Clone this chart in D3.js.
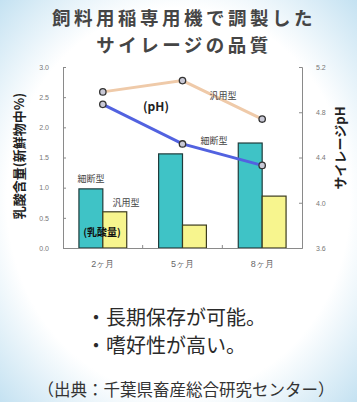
<!DOCTYPE html>
<html>
<head>
<meta charset="utf-8">
<script src="https://cdn.jsdelivr.net/npm/d3@7"></script>
<style>
  body { margin: 0; background: #fff; }
  svg { display: block; font-family: "Noto Sans CJK JP", "Noto Sans", sans-serif; }
</style>
</head>
<body>
<div id="chart"></div>
<script>
var WIDTH = 357, HEIGHT = 402;

// data
var months = ["2ヶ月", "5ヶ月", "8ヶ月"];
var lacticCut = [0.98, 1.56, 1.74];     // 細断型 乳酸量
var lacticGen = [0.60, 0.38, 0.86];     // 汎用型 乳酸量
var phCut = [4.87, 4.52, 4.33];          // 細断型 pH
var phGen = [4.98, 5.08, 4.74];          // 汎用型 pH
var leftTicks = [0, 0.5, 1.0, 1.5, 2.0, 2.5, 3.0];
var rightTicks = [3.6, 4.0, 4.4, 4.8, 5.2];

var margin = {top: 67, left: 63, right: 55, bottom: 154};
var plotW = WIDTH - margin.left - margin.right;
var plotH = HEIGHT - margin.top - margin.bottom;

var svg = d3.select("#chart").append("svg")
  .attr("width", WIDTH)
  .attr("height", HEIGHT);

// soft bluish vignette round the edges
var defs = svg.append("defs");
var grad = defs.append("radialGradient").attr("id", "bg")
  .attr("cx", "50%").attr("cy", "50%").attr("r", "75%");
grad.append("stop").attr("offset", "64%").attr("stop-color", "#ffffff");
grad.append("stop").attr("offset", "100%").attr("stop-color", "#b9dcef");
svg.append("rect").attr("width", WIDTH).attr("height", HEIGHT).attr("fill", "url(#bg)");

// title, two separate lines
function titleLine(y, txt) {
  svg.append("text")
    .attr("x", 184).attr("y", y).attr("text-anchor", "middle")
    .style("font-size", "18.5px").style("font-weight", "bold")
    .style("letter-spacing", "3.5px")
    .attr("fill", "#454545").text(txt);
}
titleLine(25, "飼料用稲専用機で調製した");
titleLine(52, "サイレージの品質");

var g = svg.append("g")
  .attr("transform", "translate(" + margin.left + "," + margin.top + ")");

var xScale = d3.scaleBand().domain(months).range([0, plotW]).paddingInner(0.4).paddingOuter(0.2);
var yLeft = d3.scaleLinear().domain([0, 3.0]).range([plotH, 0]);
var yRight = d3.scaleLinear().domain([3.6, 5.2]).range([plotH, 0]);
var inner = d3.scaleBand().domain(["cut", "gen"]).range([0, xScale.bandwidth()]);

// bars
var bars = g.selectAll(".grp").data(months).enter().append("g")
  .attr("transform", function(d) { return "translate(" + xScale(d) + ",0)"; });

bars.append("rect")
  .attr("x", inner("cut"))
  .attr("y", function(d, i) { return yLeft(lacticCut[i]); })
  .attr("width", inner.bandwidth())
  .attr("height", function(d, i) { return plotH - yLeft(lacticCut[i]); })
  .attr("fill", "#3fc3c6").attr("stroke", "#1f3b3b").attr("stroke-width", 1.2);

bars.append("rect")
  .attr("x", inner("gen"))
  .attr("y", function(d, i) { return yLeft(lacticGen[i]); })
  .attr("width", inner.bandwidth())
  .attr("height", function(d, i) { return plotH - yLeft(lacticGen[i]); })
  .attr("fill", "#f7f58e").attr("stroke", "#3b3b1f").attr("stroke-width", 1.2);

// axes
var axisColor = "#8a8a8a";
var xAxis = g.append("g")
  .attr("transform", "translate(0," + plotH + ")")
  .call(d3.axisBottom(xScale).tickSize(0).tickPadding(13));
xAxis.selectAll("text").style("font-size", "9px").attr("fill", "#666");

var lAxis = g.append("g")
  .call(d3.axisLeft(yLeft).tickValues(leftTicks).tickSize(-3).tickPadding(14).tickFormat(d3.format(".1f")));
lAxis.selectAll("text").style("font-size", "7px").attr("fill", "#777");

var rAxis = g.append("g")
  .attr("transform", "translate(" + plotW + ",0)")
  .call(d3.axisRight(yRight).tickValues(rightTicks).tickSize(-3).tickPadding(14).tickFormat(d3.format(".1f")));
rAxis.selectAll("text").style("font-size", "7px").attr("fill", "#777");

g.selectAll(".domain").attr("stroke", axisColor);
g.selectAll(".tick line").attr("stroke", axisColor);

// small marks between months on the bottom axis
g.selectAll(".sep").data(months.slice(1)).enter().append("line")
  .attr("x1", function(d) { return xScale(d) - xScale.step() * xScale.paddingInner() / 2; })
  .attr("x2", function(d) { return xScale(d) - xScale.step() * xScale.paddingInner() / 2; })
  .attr("y1", plotH).attr("y2", plotH - 3)
  .attr("stroke", axisColor);

// pH lines
var cx = function(i) { return xScale(months[i]) + xScale.bandwidth() / 2; };
var line = d3.line().x(function(d, i) { return cx(i); }).y(function(d) { return yRight(d); });

g.append("path").attr("d", line(phGen))
  .attr("fill", "none").attr("stroke", "#efcaa9").attr("stroke-width", 3);
g.append("path").attr("d", line(phCut))
  .attr("fill", "none").attr("stroke", "#5262e0").attr("stroke-width", 3);

[phGen, phCut].forEach(function(s) {
  g.selectAll(null).data(s).enter().append("circle")
    .attr("cx", function(d, i) { return cx(i); })
    .attr("cy", function(d) { return yRight(d); })
    .attr("r", 3.2)
    .attr("fill", "#c9c9d6").attr("stroke", "#333").attr("stroke-width", 1.3);
});

// annotations
function label(x, y, txt, size, weight, color) {
  return svg.append("text").attr("x", x).attr("y", y).attr("text-anchor", "middle")
    .style("font-size", size + "px").style("font-weight", weight || "normal")
    .attr("fill", color || "#444").text(txt);
}
label(91, 182, "細断型", 9);
label(126, 206, "汎用型", 9);
label(102, 236, "(乳酸量)", 10, "bold", "#111");
label(156, 111, "(pH)", 12, "bold", "#222");
label(223, 99, "汎用型", 9);
label(214, 144, "細断型", 9);

// y axis titles
svg.append("text")
  .attr("transform", "translate(24," + 156 + ") rotate(-90)")
  .attr("text-anchor", "middle")
  .style("font-size", "13px").style("font-weight", "bold").attr("fill", "#222")
  .text("乳酸含量(新鮮物中%)");
svg.append("text")
  .attr("transform", "translate(345," + 148 + ") rotate(-90)")
  .attr("text-anchor", "middle")
  .style("font-size", "13px").style("font-weight", "bold").attr("fill", "#222")
  .text("サイレージpH");

// notes below
var notes = svg.append("text").style("font-size", "20px").attr("fill", "#2a2a2a");
notes.append("tspan").attr("x", 86).attr("y", 325).text("・長期保存が可能。");
notes.append("tspan").attr("x", 86).attr("y", 353).text("・嗜好性が高い。");

label(186, 396, "（出典：千葉県畜産総合研究センター）", 16.5, "normal", "#333");
</script>
</body>
</html>
